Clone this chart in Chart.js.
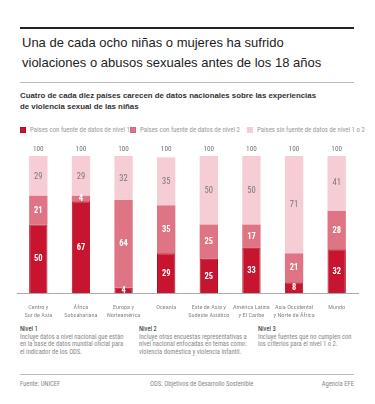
<!DOCTYPE html>
<html>
<head>
<meta charset="utf-8">
<script src="https://cdn.jsdelivr.net/npm/chart.js@4.4.0/dist/chart.umd.min.js"></script>
<style>
  body { margin: 0; background: #fff; font-family: "Liberation Sans", Arial, sans-serif; }
  #wrap { position: relative; width: 375px; height: 404px; overflow: hidden; }
  .rule { position: absolute; left: 20px; width: 334px; }
  #title { position: absolute; left: 22px; top: 33px; font-size: 13px; line-height: 20px; color: #222; white-space: nowrap; }
  #sub { position: absolute; left: 20px; top: 91px; font-size: 7.85px; line-height: 10.5px; font-weight: bold; color: #333; white-space: nowrap; }
  .sm { font-family: "Roboto Condensed", "Liberation Sans", sans-serif; }
  #legend { position: absolute; left: 20px; top: 126px; width: 340px; font-size: 6.8px; color: #999; }
  #legend span { position: absolute; white-space: nowrap; }
  #legend i { display: inline-block; width: 6px; height: 6px; vertical-align: -1px; margin-right: 4px; box-sizing: border-box; }
  #cv { position: absolute; left: 0; top: 140px; }
  .note { position: absolute; top: 326px; font-size: 6.6px; line-height: 7.5px; color: #888; white-space: nowrap; }
  .note .niv { display: block; color: #222; }
  .foot { position: absolute; top: 380px; font-size: 6.6px; color: #888; white-space: nowrap; }
</style>
</head>
<body>
<div id="wrap">
  <div class="rule" style="top:27px;height:2px;background:#222"></div>
  <div id="title">Una de cada ocho niñas o mujeres ha sufrido<br>violaciones o abusos sexuales antes de los 18 años</div>
  <div class="rule" style="top:82px;height:1px;background:#bbb"></div>
  <div id="sub">Cuatro de cada diez países carecen de datos nacionales sobre las experiencias<br>de violencia sexual de las niñas</div>
  <div id="legend" class="sm"></div>
  <canvas id="cv" width="375" height="182"></canvas>
  <div class="note sm" style="left:20px"><span class="niv">Nivel 1</span>Incluye datos a nivel nacional que están<br>en la base de datos mundial oficial para<br>el indicador de los ODS.</div>
  <div class="note sm" style="left:139px"><span class="niv">Nivel 2</span>Incluye otras encuestas representativas a<br>nivel nacional enfocadas en temas como:<br>violencia doméstica y violencia infantil.</div>
  <div class="note sm" style="left:258px"><span class="niv">Nivel 3</span>Incluye fuentes que no cumplen con<br>los criterios para el nivel 1 o 2.</div>
  <div class="rule" style="top:374px;height:1px;background:#bbb"></div>
  <div class="foot sm" style="left:20px">Fuente: UNICEF</div>
  <div class="foot sm" style="left:150px">ODS: Objetivos de Desarrollo Sostenible</div>
  <div class="foot sm" style="right:21px">Agencia EFE</div>
</div>
<script>
// datos
var regiones = [["Centro y","Sur de Asia"], ["África","Subsahariana"], ["Europa y","Norteamérica"], "Oceanía",
  ["Este de Asia y","Sudeste Asiático"], ["América Latina","y El Caribe"], ["Asia Occidental","y Norte de África"], "Mundo"];
var nivel1 = [50, 67, 4, 29, 25, 33, 8, 32];
var nivel2 = [21, 4, 64, 35, 25, 17, 21, 28];
var nivel3 = [29, 29, 32, 35, 50, 50, 71, 41];
var totales = [100, 100, 100, 100, 100, 100, 100, 100];

var nombres = ["Países con fuente de datos de nivel 1", "Países con fuente de datos de nivel 2", "Países sin fuente de datos de nivel 1 o 2"];
var colores = ["#c8142e", "#df7485", "#f6cdd5"];
var bordes = ["#a50e24", "#d0687a", "#f6cdd5"];
var colTexto = ["#fff", "#fff", "#777"];
var fuente = "'Roboto Condensed', 'Liberation Sans', sans-serif";

var leg = document.getElementById("legend");
var legX = [0, 110, 227];
for (var a = 0; a < nombres.length; a++) {
  leg.innerHTML += "<span style=\"left:" + legX[a] + "px\"><i style=\"background:" + colores[a] + ";border:1px solid " + bordes[a] + "\"></i>" + nombres[a] + "</span>";
}

var etiquetas = {
  id: "etiquetas",
  afterDatasetsDraw: function(chart) {
    var ctx = chart.ctx;
    ctx.save();
    ctx.textAlign = "center";
    ctx.textBaseline = "middle";
    chart.data.datasets.forEach(function(ds, i) {
      var meta = chart.getDatasetMeta(i);
      meta.data.forEach(function(bar, j) {
        ctx.fillStyle = colTexto[i];
        ctx.font = (i < 2 ? "bold 8.5px " : "8.5px ") + fuente;
        ctx.fillText(ds.data[j], bar.x, (bar.y + bar.base) / 2 + 0.5);
      });
    });
    ctx.fillStyle = "#777";
    ctx.font = "7.2px " + fuente;
    chart.getDatasetMeta(2).data.forEach(function(bar, j) {
      ctx.fillText(totales[j], chart.scales.x.getPixelForValue(j), chart.scales.y.getPixelForValue(100) - 7);
    });
    ctx.restore();
  }
};

new Chart(document.getElementById("cv"), {
  type: "bar",
  data: {
    labels: regiones,
    datasets: [
      { label: nombres[0], data: nivel1, backgroundColor: colores[0], borderColor: bordes[0], borderWidth: 1 },
      { label: nombres[1], data: nivel2, backgroundColor: colores[1] },
      { label: nombres[2], data: nivel3, backgroundColor: colores[2] }
    ]
  },
  options: {
    responsive: false,
    animation: false,
    layout: { padding: { left: 17, right: 17, top: 16, bottom: 0 } },
    datasets: { bar: { barPercentage: 0.43, categoryPercentage: 1 } },
    plugins: { legend: { display: false }, tooltip: { enabled: false } },
    scales: {
      x: {
        stacked: true,
        grid: { display: false },
        border: { color: "#aaa" },
        ticks: { color: "#888", font: { size: 6.2, family: fuente }, maxRotation: 0, autoSkip: false, padding: 3 }
      },
      y: { stacked: true, display: false, min: 0, max: 100 }
    }
  },
  plugins: [etiquetas]
});
</script>
</body>
</html>
